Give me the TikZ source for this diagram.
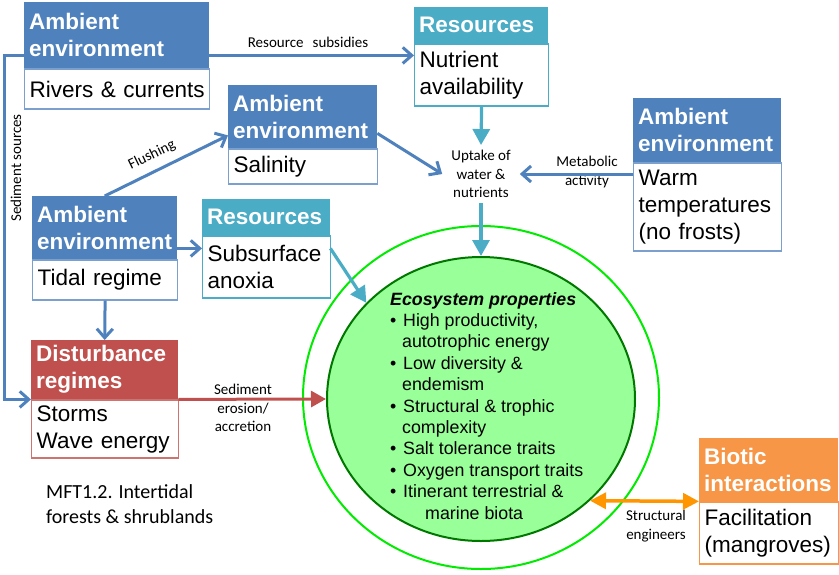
\documentclass[tikz,border=0pt]{standalone}
\usepackage{fontspec}
\setmainfont{Liberation Sans}
\newfontfamily\labelfont{Carlito}
\usetikzlibrary{arrows.meta,shapes.geometric,calc}

\definecolor{ambblue}{RGB}{79,129,189}
\definecolor{resblue}{RGB}{75,172,198}
\definecolor{disred}{RGB}{192,80,77}
\definecolor{bioorange}{RGB}{247,150,70}
\definecolor{ecofill}{RGB}{153,255,153}
\definecolor{ecoedge}{RGB}{0,120,0}
\definecolor{ringgreen}{RGB}{0,235,0}
\definecolor{linkorange}{RGB}{255,150,0}

% bullet and hanging indent for the property list
\newcommand{\propbullet}{\makebox[13pt][l]{•}}
\newcommand{\propindent}{\hspace*{12pt}}

\begin{document}
\begin{tikzpicture}[x=1pt,y=-1pt,
  hdr/.style={anchor=north west, inner xsep=5pt, inner ysep=2pt, align=left,
    text=white, font=\fontsize{22.5}{27}\selectfont\bfseries},
  bod/.style={anchor=north west, inner xsep=5pt, inner ysep=2pt, align=left,
    fill=white, line width=1.2pt, font=\fontsize{22.5}{27}\selectfont},
  lbl/.style={font=\labelfont\fontsize{15}{18.5}\selectfont, align=center, inner sep=0pt},
  flow/.style={draw=ambblue, line width=3pt, -{Straight Barb[length=9pt,width=16pt]}},
  feed/.style={draw=resblue, line width=3.2pt, -{Triangle[length=16pt,width=17pt]}},
  hit/.style={draw=disred, line width=3pt, -{Triangle[length=15pt,width=16pt]}},
  link/.style={draw=linkorange, line width=3.5pt,
    {Triangle[length=16pt,width=16pt]}-{Triangle[length=16pt,width=16pt]}},
]
\useasboundingbox (0,0) rectangle (839,574);

% ecosystem core
\node[ellipse, draw=ringgreen, line width=2pt, minimum width=356pt, minimum height=343pt, inner sep=0pt] (ring) at (481,397.5) {};
\node[ellipse, draw=ecoedge, fill=ecofill, line width=2pt, minimum width=308pt, minimum height=284pt, inner sep=0pt] (eco) at (481,399) {};
\node[anchor=north west, inner sep=0pt, align=left, font=\fontsize{17.8}{21.4}\selectfont] (props) at (390,292) {%
  \textbf{\textit{Ecosystem properties}}\\
  \propbullet High productivity,\\
  \propindent autotrophic energy\\
  \propbullet Low diversity \&\\
  \propindent endemism\\
  \propbullet Structural \& trophic\\
  \propindent complexity\\
  \propbullet Salt tolerance traits\\
  \propbullet Oxygen transport traits\\
  \propbullet Itinerant terrestrial \&\\
  \hspace*{35pt}marine biota};

% driver boxes: coloured header over white body
\node[hdr, fill=ambblue, text width=175pt, minimum height=66pt] (rivH) at (24,2) {Ambient\\environment};
\node[bod, draw=ambblue!75, text width=175pt, minimum height=40pt] (riv) at (rivH.south west) {\mbox{Rivers \& currents}};

\node[hdr, fill=resblue, text width=124pt, minimum height=36pt] (nutrH) at (414,7) {Resources};
\node[bod, draw=resblue, text width=124pt, minimum height=62pt] (nutr) at (nutrH.south west) {Nutrient\\availability};

\node[hdr, fill=ambblue, text width=139pt, minimum height=63pt] (salH) at (228,85) {Ambient\\environment};
\node[bod, draw=ambblue!75, text width=139pt, minimum height=35pt] (sal) at (salH.south west) {Salinity};

\node[hdr, fill=ambblue, text width=138pt, minimum height=64pt] (warmH) at (633,98) {Ambient\\environment};
\node[bod, draw=ambblue!75, text width=138pt, minimum height=88pt] (warm) at (warmH.south west) {Warm\\temperatures\\\mbox{(no frosts)}};

\node[hdr, fill=ambblue, text width=135pt, minimum height=63pt] (tidH) at (32,196) {Ambient\\environment};
\node[bod, draw=ambblue!75, text width=135pt, minimum height=40pt] (tid) at (tidH.south west) {\mbox{Tidal regime}};

\node[hdr, fill=resblue, text width=118pt, minimum height=36pt] (subH) at (202,199) {Resources};
\node[bod, draw=resblue, text width=118pt, minimum height=62pt] (sub) at (subH.south west) {Subsurface\\anoxia};

\node[hdr, fill=disred, text width=137pt, minimum height=59pt] (disH) at (31,340) {Disturbance\\regimes};
\node[bod, draw=disred!80, text width=137pt, minimum height=58pt] (dis) at (disH.south west) {Storms\\\mbox{Wave energy}};

\node[hdr, fill=bioorange, text width=129pt, minimum height=63pt] (bioH) at (699,438) {Biotic\\interactions};
\node[bod, draw=bioorange, text width=129pt, minimum height=62pt] (bio) at (bioH.south west) {Facilitation\\(mangroves)};

% connector labels
\node[lbl] (subsLbl) at (308,42) {Resource\hspace{0.6em}subsidies};
\node[lbl, rotate=90] (sedLbl) at (16,168) {Sediment sources};
\node[lbl, rotate=26] (flushLbl) at (152,155) {Flushing};
\node[lbl, inner xsep=9pt, inner ysep=5pt] (uptake) at (481,174) {Uptake of\\water \&\\nutrients};
\node[lbl] (metaLbl) at (587,172) {Metabolic\\activity};
\node[lbl] (erosLbl) at (243,408) {Sediment\\erosion/\\accretion};
\node[lbl] (engLbl) at (656,526) {Structural\\engineers};
\node[anchor=north west, inner sep=0pt, align=left, font=\labelfont\fontsize{20}{25}\selectfont] (mft) at (46,484) {MFT1.2. Intertidal\\forests \& shrublands};

% connector end points on box edges
\coordinate (subsA) at ([yshift=13pt]rivH.south east);
\coordinate (sedA) at ([yshift=13pt]rivH.south west);
\coordinate (flushEnd) at ([yshift=13pt]salH.south west);
\coordinate (salOut) at ([yshift=15pt]salH.south east);
\coordinate (tidOut) at ([yshift=11pt]tidH.south east);
\coordinate (subOut) at ([yshift=-13pt]subH.south east);

% connectors
\draw[flow] (subsA) -- (subsA -| nutr.west);
\draw[flow] (sedA) -- ++(-20,0) |- (disH.south west);
\draw[flow] (tidH.north) -- (flushEnd);
\draw[flow] (salOut) -- (uptake.west);
\draw[flow] (uptake.east -| warm.west) -- (uptake.east);
\draw[flow] (tidOut) -- (tidOut -| sub.west);
\draw[flow] (tid.south) -- (disH.north);
\draw[feed] (nutr.south) -- (uptake.north);
\draw[feed] (uptake.south) -- (eco.north);
\draw[feed] (subOut) -- (eco.140);
\draw[hit] (disH.south east) -- (eco.west);
\draw[link] (eco.-43) -- (bioH.south west);
\end{tikzpicture}
\end{document}
